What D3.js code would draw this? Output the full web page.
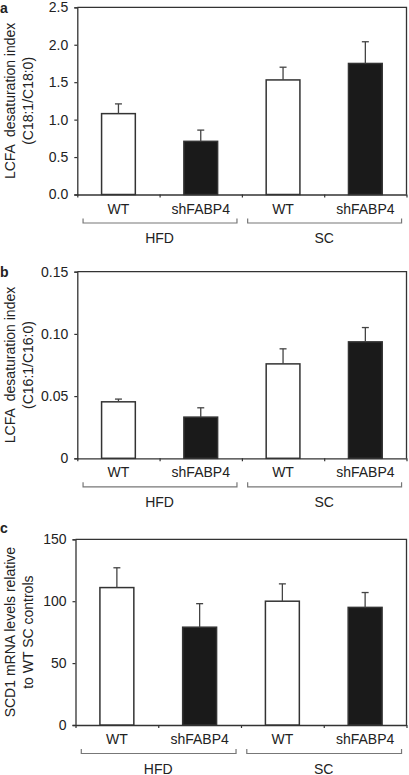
<!DOCTYPE html>
<html>
<head>
<meta charset="utf-8">
<script src="https://cdn.jsdelivr.net/npm/d3@7"></script>
<style>
  html, body { margin: 0; padding: 0; background: #fff; }
  svg { display: block; }
  text { font-family: "Liberation Sans", Arial, sans-serif; fill: #222; }
</style>
</head>
<body>
<svg id="chart" width="409" height="775"></svg>
<script>
// ---- data ----
const categories = ["WT", "shFABP4", "WT", "shFABP4"];
const groups = ["HFD", "SC"];
const barFills = ["white", "black", "white", "black"];

const aValues = [1.08, 0.71, 1.53, 1.75];
const aErrors = [0.13, 0.15, 0.17, 0.29];
const aTicks = ["0.0", "0.5", "1.0", "1.5", "2.0", "2.5"];

const bValues = [0.0454, 0.0331, 0.0759, 0.0936];
const bErrors = [0.0022, 0.0075, 0.0121, 0.0115];
const bTicks = ["0", "0.05", "0.10", "0.15"];

const cValues = [111, 79, 100, 95];
const cErrors = [16, 19, 14, 12];
const cTicks = ["0", "50", "100", "150"];

const panels = [
  { label: "a", values: aValues, errors: aErrors, ticks: aTicks, max: 2.5,
    title: ["LCFA  desaturation index", "(C18:1/C18:0)"],
    left: 77.3, right: 406.5, top: 7.3, bottom: 194.5, labelY: 12.8 },
  { label: "b", values: bValues, errors: bErrors, ticks: bTicks, max: 0.15,
    title: ["LCFA  desaturation index", "(C16:1/C16:0)"],
    left: 77.3, right: 406.5, top: 271.7, bottom: 458.3, labelY: 277 },
  { label: "c", values: cValues, errors: cErrors, ticks: cTicks, max: 150,
    title: ["SCD1 mRNA levels relative", "to WT SC controls"],
    left: 75.5, right: 406.5, top: 539.3, bottom: 725, labelY: 533 }
];

const svg = d3.select("#chart");
const axisColor = "#333";

panels.forEach(p => {
  const g = svg.append("g");
  const idx = d3.range(categories.length);
  const x = d3.scaleBand().domain(idx).range([p.left, p.right])
    .paddingInner(0.59).paddingOuter(0.295);
  const y = d3.scaleLinear().domain([0, p.max]).range([p.bottom, p.top]);
  const step = x.step();

  // frame (top & right)
  g.append("path")
    .attr("d", `M${p.left},${p.top}H${p.right}V${p.bottom}`)
    .attr("fill", "none").attr("stroke", axisColor).attr("stroke-width", 1.3);

  // y axis
  const tickVals = p.ticks.map(Number);
  const yAxis = d3.axisLeft(y).tickValues(tickVals)
    .tickFormat((d, i) => p.ticks[i]).tickSize(3).tickPadding(6);
  const ya = g.append("g").attr("transform", `translate(${p.left},0)`).call(yAxis);
  ya.select(".domain").attr("stroke", axisColor).attr("stroke-width", 1.3);
  ya.selectAll(".tick line").attr("stroke", axisColor).attr("stroke-width", 1.2);
  ya.selectAll(".tick text").style("font-size", "14px")
    .style("font-family", '"Liberation Sans", Arial, sans-serif').attr("fill", "#222");

  // x axis: boundary ticks
  const boundaries = d3.range(categories.length + 1).map(i => p.left + i * step);
  const xb = d3.scaleLinear().domain([p.left, p.right]).range([p.left, p.right]);
  const xAxis = d3.axisBottom(xb).tickValues(boundaries).tickFormat("").tickSize(3).tickSizeOuter(0);
  const xa = g.append("g").attr("transform", `translate(0,${p.bottom})`).call(xAxis);
  xa.select(".domain").attr("stroke", axisColor).attr("stroke-width", 1.3);
  xa.selectAll(".tick line").attr("stroke", axisColor).attr("stroke-width", 1.2);

  // bars
  g.selectAll("rect.bar").data(p.values).join("rect")
    .attr("class", "bar")
    .attr("x", (d, i) => x(i))
    .attr("width", x.bandwidth())
    .attr("y", d => y(d))
    .attr("height", d => y(0) - y(d))
    .attr("fill", (d, i) => barFills[i] === "black" ? "#1a1a1a" : "#fff")
    .attr("stroke", "#333").attr("stroke-width", 1.5);

  // error bars (upper only)
  const cap = 3.5;
  p.values.forEach((v, i) => {
    const cx = x(i) + x.bandwidth() / 2;
    const yt = y(v + p.errors[i]);
    g.append("line").attr("x1", cx).attr("x2", cx).attr("y1", y(v)).attr("y2", yt)
      .attr("stroke", "#444").attr("stroke-width", 1.3);
    g.append("line").attr("x1", cx - cap).attr("x2", cx + cap).attr("y1", yt).attr("y2", yt)
      .attr("stroke", "#444").attr("stroke-width", 1.3);
  });

  // category labels
  g.selectAll("text.cat").data(categories).join("text")
    .attr("class", "cat")
    .attr("x", (d, i) => x(i) + x.bandwidth() / 2)
    .attr("y", p.bottom + 19)
    .attr("text-anchor", "middle")
    .style("font-size", "14px")
    .text(d => d);

  // group brackets
  groups.forEach((gr, gi) => {
    const c0 = x(gi * 2) + x.bandwidth() / 2;
    const c1 = x(gi * 2 + 1) + x.bandwidth() / 2;
    const x0 = c0 - 0.43 * step, x1 = c1 + 0.44 * step;
    const yb = p.bottom + 28.5;
    g.append("path")
      .attr("d", `M${x0},${yb - 4.5}V${yb}H${x1}V${yb - 4.5}`)
      .attr("fill", "none").attr("stroke", "#777").attr("stroke-width", 1.2);
    g.append("text")
      .attr("x", (c0 + c1) / 2)
      .attr("y", p.bottom + 48.5)
      .attr("text-anchor", "middle")
      .style("font-size", "14px")
      .text(gr);
  });

  // y title (two lines)
  const cy = (p.top + p.bottom) / 2;
  const yt = g.append("text")
    .attr("transform", `translate(15,${cy}) rotate(-90)`)
    .attr("text-anchor", "middle")
    .style("font-size", "14px");
  yt.append("tspan").attr("x", 0).attr("y", 0).attr("xml:space", "preserve")
    .style("white-space", "pre").text(p.title[0]);
  yt.append("tspan").attr("x", 0).attr("y", 18).text(p.title[1]);

  // panel label
  g.append("text")
    .attr("x", 0).attr("y", p.labelY)
    .style("font-size", "14px").style("font-weight", "bold")
    .attr("fill", "#000")
    .text(p.label);
});
</script>
</body>
</html>
